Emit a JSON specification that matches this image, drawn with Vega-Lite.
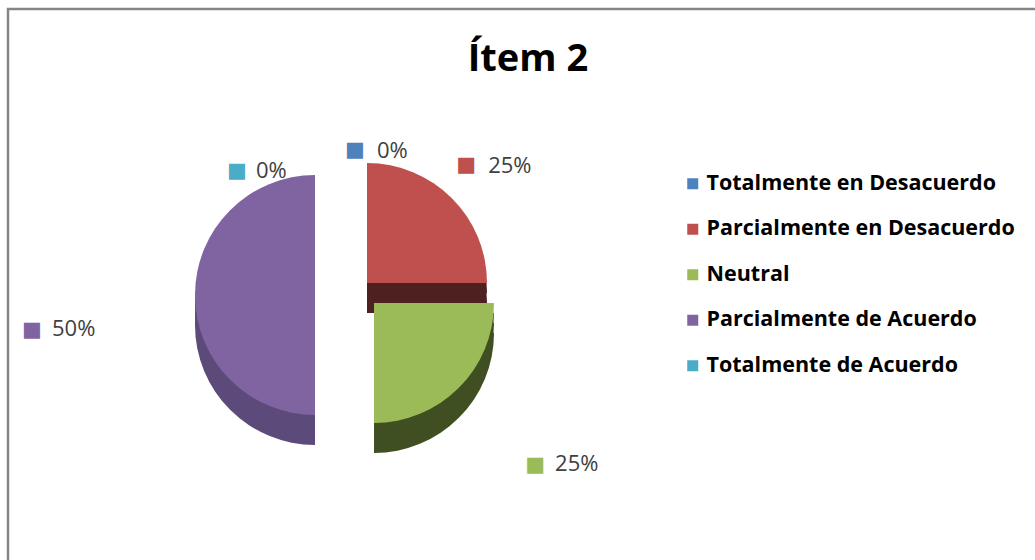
{
  "$schema": "https://vega.github.io/schema/vega-lite/v6.json",
  "autosize": "none",
  "padding": {"left": 8, "top": 9, "right": 0, "bottom": 0},
  "width": 1040,
  "height": 560,
  "background": "white",
  "config": {
    "view": {"stroke": null},
    "font": "Open Sans"
  },
  "title": {
    "text": "Ítem 2",
    "anchor": "middle",
    "frame": "group",
    "orient": "top",
    "offset": -64,
    "dy": 37,
    "baseline": "alphabetic",
    "fontSize": 38,
    "fontWeight": "bold",
    "font": "Open Sans",
    "color": "#000000"
  },
  "data": {
    "values": [
      {"categoria": "Totalmente en Desacuerdo", "porcentaje": 0, "orden": 1},
      {"categoria": "Parcialmente en Desacuerdo", "porcentaje": 0.25, "orden": 2},
      {"categoria": "Neutral", "porcentaje": 0.25, "orden": 3},
      {"categoria": "Parcialmente de Acuerdo", "porcentaje": 0.5, "orden": 4},
      {"categoria": "Totalmente de Acuerdo", "porcentaje": 0, "orden": 5}
    ]
  },
  "layer": [
    {
      "data": {"values": [{}]},
      "mark": {"type": "rect", "fill": null, "stroke": "#868686", "strokeWidth": 2.5},
      "encoding": {
        "x": {"value": 0}, "x2": {"value": "width"},
        "y": {"value": 0}, "y2": {"value": "height"}
      }
    },
    {
      "encoding": {
        "theta": {"field": "porcentaje", "type": "quantitative", "stack": true},
        "order": {"field": "orden", "type": "quantitative"}
      },
      "layer": [
        {"mark": {"type": "arc", "radius": 120, "x": 307, "y": 296, "color": "#5B4A7A"},
         "encoding": {"opacity": {"condition": {"test": "datum.categoria === 'Parcialmente de Acuerdo'", "value": 1}, "value": 0}}},
        {"mark": {"type": "arc", "radius": 120, "x": 307, "y": 306, "color": "#5B4A7A"},
         "encoding": {"opacity": {"condition": {"test": "datum.categoria === 'Parcialmente de Acuerdo'", "value": 1}, "value": 0}}},
        {"mark": {"type": "arc", "radius": 120, "x": 307, "y": 316, "color": "#5B4A7A"},
         "encoding": {"opacity": {"condition": {"test": "datum.categoria === 'Parcialmente de Acuerdo'", "value": 1}, "value": 0}}},
        {"mark": {"type": "arc", "radius": 120, "x": 359, "y": 284, "color": "#4E2020"},
         "encoding": {"opacity": {"condition": {"test": "datum.categoria === 'Parcialmente en Desacuerdo'", "value": 1}, "value": 0}}},
        {"mark": {"type": "arc", "radius": 120, "x": 359, "y": 294, "color": "#4E2020"},
         "encoding": {"opacity": {"condition": {"test": "datum.categoria === 'Parcialmente en Desacuerdo'", "value": 1}, "value": 0}}},
        {"mark": {"type": "arc", "radius": 120, "x": 359, "y": 304, "color": "#4E2020"},
         "encoding": {"opacity": {"condition": {"test": "datum.categoria === 'Parcialmente en Desacuerdo'", "value": 1}, "value": 0}}},
        {"mark": {"type": "arc", "radius": 120, "x": 366, "y": 304, "color": "#3F4F22"},
         "encoding": {"opacity": {"condition": {"test": "datum.categoria === 'Neutral'", "value": 1}, "value": 0}}},
        {"mark": {"type": "arc", "radius": 120, "x": 366, "y": 314, "color": "#3F4F22"},
         "encoding": {"opacity": {"condition": {"test": "datum.categoria === 'Neutral'", "value": 1}, "value": 0}}},
        {"mark": {"type": "arc", "radius": 120, "x": 366, "y": 324, "color": "#3F4F22"},
         "encoding": {"opacity": {"condition": {"test": "datum.categoria === 'Neutral'", "value": 1}, "value": 0}}},
        {"mark": {"type": "arc", "radius": 120, "x": 307, "y": 286},
         "encoding": {
           "color": {"field": "categoria", "type": "nominal",
             "scale": {"domain": ["Totalmente en Desacuerdo", "Parcialmente en Desacuerdo", "Neutral", "Parcialmente de Acuerdo", "Totalmente de Acuerdo"],
                       "range": ["#4F81BD", "#C0504D", "#9BBB59", "#8064A2", "#4BACC6"]},
             "legend": {"title": null, "orient": "none", "legendX": 674, "legendY": 164, "symbolType": "square", "symbolSize": 121,
                        "labelFont": "Open Sans", "labelFontSize": 21.5, "labelFontWeight": "bold", "labelColor": "#000000",
                        "rowPadding": 22.5, "labelOffset": 3, "symbolStrokeWidth": 0, "padding": 0, "labelLimit": 400, "symbolOpacity": 1}},
           "opacity": {"condition": {"test": "datum.categoria === 'Parcialmente de Acuerdo'", "value": 1}, "value": 0}}},
        {"mark": {"type": "arc", "radius": 120, "x": 359, "y": 274},
         "encoding": {
           "color": {"field": "categoria", "type": "nominal"},
           "opacity": {"condition": {"test": "datum.categoria === 'Parcialmente en Desacuerdo'", "value": 1}, "value": 0}}},
        {"mark": {"type": "arc", "radius": 120, "x": 366, "y": 294},
         "encoding": {
           "color": {"field": "categoria", "type": "nominal"},
           "opacity": {"condition": {"test": "datum.categoria === 'Neutral'", "value": 1}, "value": 0}}},

        {"mark": {"type": "text", "text": "■", "x": 359, "y": 274, "radius": 160, "dx": -14, "dy": -5, "fontSize": 21, "font": "DejaVu Sans"},
         "encoding": {"color": {"field": "categoria", "type": "nominal"},
           "opacity": {"condition": {"test": "datum.categoria === 'Parcialmente en Desacuerdo'", "value": 1}, "value": 0}}},
        {"mark": {"type": "text", "x": 359, "y": 274, "radius": 160, "dx": 8, "dy": -4, "align": "left", "baseline": "middle", "fontSize": 22, "color": "#404040"},
         "encoding": {"text": {"field": "porcentaje", "type": "quantitative", "format": ".0%"},
           "opacity": {"condition": {"test": "datum.categoria === 'Parcialmente en Desacuerdo'", "value": 1}, "value": 0}}},

        {"mark": {"type": "text", "text": "■", "x": 366, "y": 294, "radius": 225, "dx": 2, "dy": 3, "fontSize": 21, "font": "DejaVu Sans"},
         "encoding": {"color": {"field": "categoria", "type": "nominal"},
           "opacity": {"condition": {"test": "datum.categoria === 'Neutral'", "value": 1}, "value": 0}}},
        {"mark": {"type": "text", "x": 366, "y": 294, "radius": 225, "dx": 22, "dy": 2, "align": "left", "baseline": "middle", "fontSize": 22, "color": "#404040"},
         "encoding": {"text": {"field": "porcentaje", "type": "quantitative", "format": ".0%"},
           "opacity": {"condition": {"test": "datum.categoria === 'Neutral'", "value": 1}, "value": 0}}},

        {"mark": {"type": "text", "text": "■", "x": 307, "y": 286, "radius": 260, "dx": -23, "dy": 35, "fontSize": 21, "font": "DejaVu Sans"},
         "encoding": {"color": {"field": "categoria", "type": "nominal"},
           "opacity": {"condition": {"test": "datum.categoria === 'Parcialmente de Acuerdo'", "value": 1}, "value": 0}}},
        {"mark": {"type": "text", "x": 307, "y": 286, "radius": 260, "dx": -3, "dy": 34, "align": "left", "baseline": "middle", "fontSize": 22, "color": "#404040"},
         "encoding": {"text": {"field": "porcentaje", "type": "quantitative", "format": ".0%"},
           "opacity": {"condition": {"test": "datum.categoria === 'Parcialmente de Acuerdo'", "value": 1}, "value": 0}}},

        {"mark": {"type": "text", "text": "■", "x": 337, "y": 284, "radius": 140, "dx": 10, "dy": -3, "fontSize": 21, "font": "DejaVu Sans"},
         "encoding": {"color": {"field": "categoria", "type": "nominal"},
           "opacity": {"condition": {"test": "datum.categoria === 'Totalmente en Desacuerdo'", "value": 1}, "value": 0}}},
        {"mark": {"type": "text", "x": 337, "y": 284, "radius": 140, "dx": 32, "dy": -2, "align": "left", "baseline": "middle", "fontSize": 22, "color": "#404040"},
         "encoding": {"text": {"field": "porcentaje", "type": "quantitative", "format": ".0%"},
           "opacity": {"condition": {"test": "datum.categoria === 'Totalmente en Desacuerdo'", "value": 1}, "value": 0}}},

        {"mark": {"type": "text", "text": "■", "x": 337, "y": 284, "radius": 140, "dx": -108, "dy": 18, "fontSize": 21, "font": "DejaVu Sans"},
         "encoding": {"color": {"field": "categoria", "type": "nominal"},
           "opacity": {"condition": {"test": "datum.categoria === 'Totalmente de Acuerdo'", "value": 1}, "value": 0}}},
        {"mark": {"type": "text", "x": 337, "y": 284, "radius": 140, "dx": -89, "dy": 18, "align": "left", "baseline": "middle", "fontSize": 22, "color": "#404040"},
         "encoding": {"text": {"field": "porcentaje", "type": "quantitative", "format": ".0%"},
           "opacity": {"condition": {"test": "datum.categoria === 'Totalmente de Acuerdo'", "value": 1}, "value": 0}}}
      ]
    }
  ]
}
